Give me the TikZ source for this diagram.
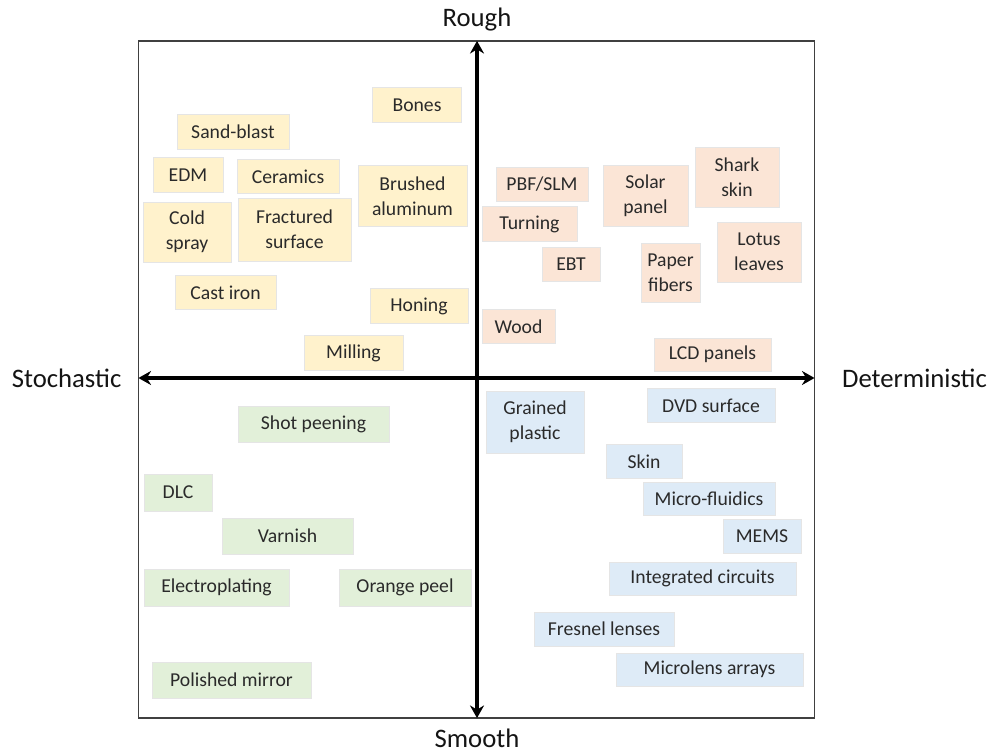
\documentclass[tikz,border=0pt]{standalone}
\usepackage{fontspec}
\setmainfont{Carlito}
\usepackage{xcolor}
\usepackage{tikz}
\usetikzlibrary{arrows.meta, positioning}

\definecolor{roughsto}{HTML}{FFF2CC}
\definecolor{roughdet}{HTML}{FBE5D6}
\definecolor{smoothsto}{HTML}{E2F0D9}
\definecolor{smoothdet}{HTML}{DEEBF7}
\definecolor{inktext}{HTML}{2A2A2A}

\begin{document}
\begin{tikzpicture}[
    x=0.025cm, y=-0.025cm,
    >=Stealth,
    box/.style={draw=black!10, line width=0.6pt, inner sep=0pt, minimum height=0.86cm,
                font=\fontsize{14}{17.5}\selectfont, text=inktext, align=center},
    rsbox/.style={box, fill=roughsto},
    rdbox/.style={box, fill=roughdet},
    ssbox/.style={box, fill=smoothsto},
    sdbox/.style={box, fill=smoothdet},
    axislabel/.style={inner sep=0pt, font=\fontsize{19}{22}\selectfont, text=black!92},
    axisarr/.style={{Stealth[length=9pt, width=10pt, inset=3pt]}-{Stealth[length=9pt, width=10pt, inset=3pt]}, line width=2.2pt},
]
\useasboundingbox (0,0) rectangle (1004,753);

% === Frame and axes ===
\node[draw=black!75, line width=1.1pt, inner sep=0pt, outer sep=0pt,
      minimum width=16.9cm, minimum height=16.925cm] (plane) at (476.5,379.5) {};

\draw[axisarr] (plane.west |- 0,378) coordinate (wtip) -- (plane.east |- 0,378) coordinate (etip);
\draw[axisarr] (477,0 |- plane.north) coordinate (ntip) -- (477,0 |- plane.south) coordinate (stip);

\node[axislabel, above=0.25cm of ntip] (rough) {Rough};
\node[axislabel, below=0.27cm of stip] (smooth) {Smooth};
\node[axislabel, left=0.42cm of wtip] (stoch) {Stochastic};
\node[axislabel, right=0.68cm of etip] (determ) {Deterministic};

% === Rough / stochastic ===
\node[rsbox, minimum width=2.225cm] (bones) at (417,105) {Bones};
\node[rsbox, minimum width=2.8cm] (sandblast) at (233,132) {Sand-blast};
\node[rsbox, minimum width=1.75cm] (edm) at (188,175) {EDM};
\node[rsbox, minimum width=2.55cm] (ceramics) at (288,176.5) {Ceramics};
\node[rsbox, minimum width=2.725cm, minimum height=1.525cm] (brushed) at (412.5,196) {Brushed\\aluminum};
\node[rsbox, minimum width=2.2cm, minimum height=1.5cm] (coldspray) at (187,232) {Cold\\spray};
\node[rsbox, minimum width=2.825cm, minimum height=1.575cm] (fractured) at (294.5,229.5) {Fractured\\surface};
\node[rsbox, minimum width=2.525cm] (castiron) at (225.5,292.5) {Cast iron};
\node[rsbox, minimum width=2.45cm] (honing) at (419,306) {Honing};
\node[rsbox, minimum width=2.475cm] (milling) at (353.5,353) {Milling};

% === Rough / deterministic ===
\node[rdbox, minimum width=2.3cm] (pbf) at (542,184.5) {PBF/SLM};
\node[rdbox, minimum width=2.125cm, minimum height=1.525cm] (solar) at (645.5,195.5) {Solar\\panel};
\node[rdbox, minimum width=2.1cm, minimum height=1.5cm] (shark) at (737,177) {Shark\\skin};
\node[rdbox, minimum width=2.375cm] (turning) at (529.5,224) {Turning};
\node[rdbox, minimum width=2.1cm, minimum height=1.5cm] (lotus) at (759,252) {Lotus\\leaves};
\node[rdbox, minimum width=1.45cm] (ebt) at (571,264.5) {EBT};
\node[rdbox, minimum width=1.475cm, minimum height=1.475cm] (paper) at (670.5,272.5) {Paper\\fibers};
\node[rdbox, minimum width=1.825cm] (wood) at (518.5,326.5) {Wood};
\node[rdbox, minimum width=2.925cm, minimum height=0.825cm] (lcd) at (712.5,354.5) {LCD panels};

% === Smooth / stochastic ===
\node[ssbox, minimum width=3.775cm, minimum height=0.9cm] (shot) at (313.5,424) {Shot peening};
\node[ssbox, minimum width=1.7cm, minimum height=0.925cm] (dlc) at (178,492.5) {DLC};
\node[ssbox, minimum width=3.275cm, minimum height=0.9cm] (varnish) at (287.5,536) {Varnish};
\node[ssbox, minimum width=3.625cm, minimum height=0.925cm] (electro) at (216.5,587.5) {Electroplating};
\node[ssbox, minimum width=3.3cm, minimum height=0.925cm] (orange) at (405,587.5) {Orange peel};
\node[ssbox, minimum width=3.975cm, minimum height=0.9cm] (mirror) at (231.5,680) {Polished mirror};

% === Smooth / deterministic ===
\node[sdbox, minimum width=2.45cm, minimum height=1.55cm] (grained) at (535,422) {Grained\\plastic};
\node[sdbox, minimum width=3.2cm] (dvd) at (711,405.5) {DVD surface};
\node[sdbox, minimum width=1.9cm] (skin) at (644,461.5) {Skin};
\node[sdbox, minimum width=3.3cm, minimum height=0.825cm] (microfl) at (709,498.5) {Micro-fluidics};
\node[sdbox, minimum width=1.95cm] (mems) at (762,536.5) {MEMS};
\node[sdbox, minimum width=4.675cm, minimum height=0.825cm] (ic) at (702.5,578.5) {Integrated circuits};
\node[sdbox, minimum width=3.5cm, minimum height=0.85cm] (fresnel) at (604,629) {Fresnel lenses};
\node[sdbox, minimum width=4.675cm, minimum height=0.825cm] (microlens) at (709.5,669.5) {Microlens arrays};

\end{tikzpicture}
\end{document}
